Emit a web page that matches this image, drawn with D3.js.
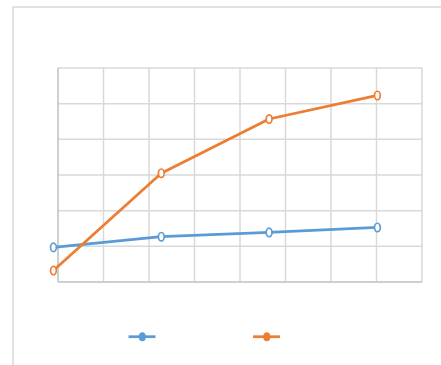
<!DOCTYPE html>
<html><head><meta charset="utf-8">
<script src="https://cdn.jsdelivr.net/npm/d3@7"></script>
<style>html,body{margin:0;padding:0;background:#fff;overflow:hidden}</style>
</head><body>
<svg id="c" width="441" height="365"></svg>
<script>
const seriesNames = ["Series 1", "Series 2"];
const xValues = [-0.1, 2.27, 4.64, 7.02];
const blueValues = [0.97, 1.27, 1.39, 1.53];
const orangeValues = [0.32, 3.05, 4.57, 5.23];
const xTicks = [0, 1, 2, 3, 4, 5, 6, 7, 8];
const yTicks = [0, 1, 2, 3, 4, 5, 6];
const colors = ["#5b9bd5", "#ed7d31"];

const svg = d3.select("#c");
// outer chart border
svg.append("path").attr("d", "M13,366 L13,7 L442,7")
  .attr("fill", "none").attr("stroke", "#d9d9d9").attr("stroke-width", 1.5);

const x = d3.scaleLinear().domain([0, 8]).range([58, 422]);
const y = d3.scaleLinear().domain([0, 6]).range([282, 68]);

const g = svg.append("g");
g.selectAll("line.h").data(yTicks.slice(1)).join("line")
  .attr("x1", x(0)).attr("x2", x(8))
  .attr("y1", d => y(d)).attr("y2", d => y(d))
  .attr("stroke", "#d9d9d9").attr("stroke-width", 1.5);
g.selectAll("line.v").data(xTicks.slice(1)).join("line")
  .attr("x1", d => x(d)).attr("x2", d => x(d))
  .attr("y1", y(0)).attr("y2", y(6))
  .attr("stroke", "#d9d9d9").attr("stroke-width", 1.5);
g.append("line").attr("x1", x(0)).attr("x2", x(0)).attr("y1", y(0)).attr("y2", y(6))
  .attr("stroke", "#bfbfbf").attr("stroke-width", 1.5);
g.append("line").attr("x1", x(0)).attr("x2", x(8)).attr("y1", y(0)).attr("y2", y(0))
  .attr("stroke", "#bfbfbf").attr("stroke-width", 1.5);

const series = [blueValues, orangeValues];
const line = d3.line().x(d => x(d[0])).y(d => y(d[1]));
series.forEach((vals, i) => {
  const pts = vals.map((v, j) => [xValues[j], v]);
  svg.append("path").datum(pts).attr("d", line)
    .attr("fill", "none").attr("stroke", colors[i]).attr("stroke-width", 2.75)
    .attr("stroke-linejoin", "round");
  svg.selectAll(null).data(pts).join("ellipse")
    .attr("cx", d => x(d[0])).attr("cy", d => y(d[1]))
    .attr("rx", 2.9).attr("ry", 4.2)
    .attr("fill", "#fff").attr("stroke", colors[i]).attr("stroke-width", 1.7);
});

const legendX = [128.5, 253];
seriesNames.forEach((n, i) => {
  const lg = svg.append("g").attr("class", "legend");
  lg.append("line").attr("x1", legendX[i]).attr("x2", legendX[i] + 27)
    .attr("y1", 336.7).attr("y2", 336.7)
    .attr("stroke", colors[i]).attr("stroke-width", 2.75);
  lg.append("ellipse").attr("cx", legendX[i] + 13.8).attr("cy", 336.7)
    .attr("rx", 3.5).attr("ry", 4.5).attr("fill", colors[i]);
});
</script>
</body></html>
